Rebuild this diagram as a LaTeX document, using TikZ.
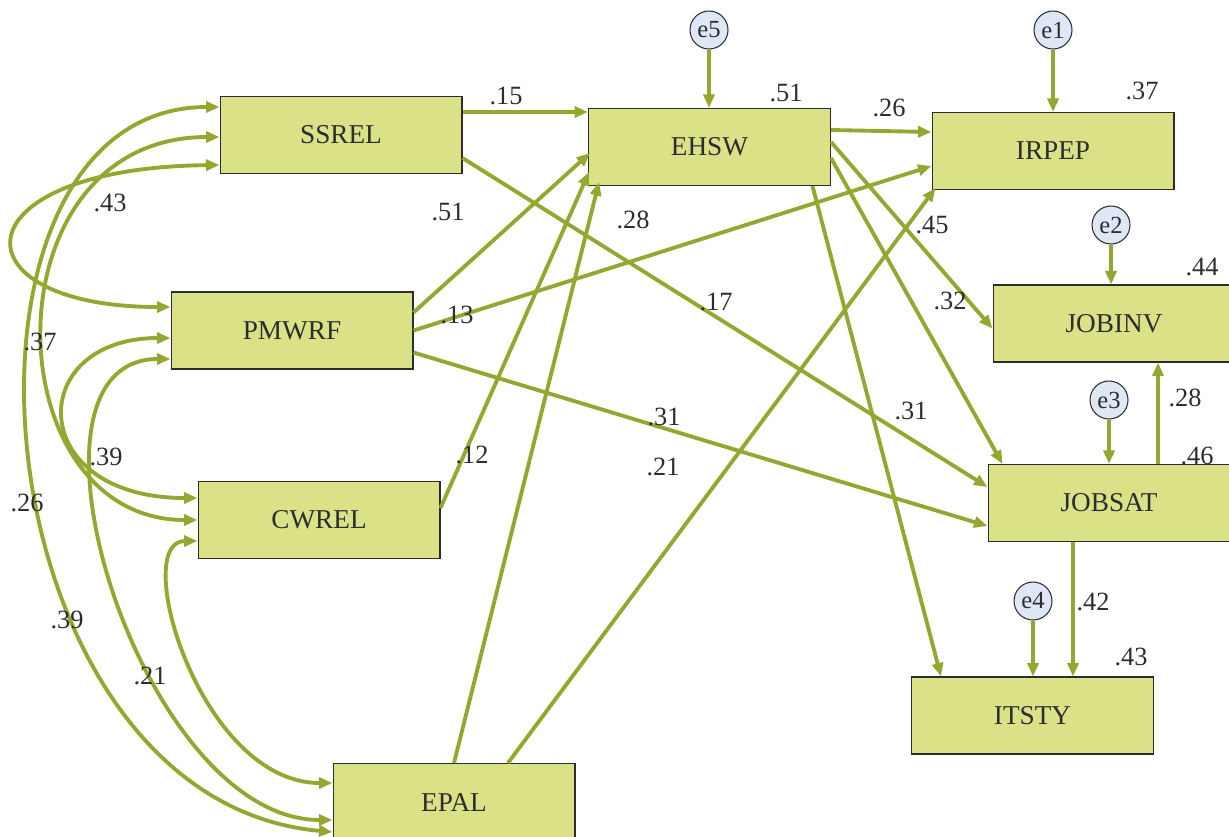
\documentclass[tikz,border=0pt]{standalone}
\usepackage{fontspec}
\setmainfont{Liberation Serif}
\usepackage{tikz}
\usetikzlibrary{positioning,calc,arrows.meta}

\definecolor{pathgreen}{RGB}{149,167,48}
\definecolor{boxgreen}{RGB}{218,225,135}
\definecolor{errblue}{RGB}{222,231,245}
\definecolor{inkgray}{RGB}{45,45,45}

\begin{document}
\begin{tikzpicture}[x=0.02cm, y=-0.02cm,
        >={Triangle[length=0.27cm,width=0.22cm]},
        var/.style={draw=inkgray, line width=0.6pt, fill=boxgreen, minimum width=4.84cm, minimum height=1.54cm, inner sep=0pt, font=\fontsize{15.5}{17}\selectfont, text=inkgray},
        err/.style={circle, draw=inkgray, line width=0.6pt, fill=errblue, minimum size=0.76cm, inner sep=0pt, font=\fontsize{14}{15}\selectfont, text=inkgray},
        coef/.style={inner sep=0pt, font=\fontsize{15}{17}\selectfont, text=inkgray},
        effect/.style={draw=pathgreen, line width=2.2pt, ->},
        cov/.style={draw=pathgreen, line width=2.2pt, <->}]
        \useasboundingbox (0,0) rectangle (1229,836);

        % Exogenous
        \node[var] (ssrel) at (341,135) {SSREL};
        \node[var] (pmwrf) at (292,330.5) {PMWRF};
        \node[var] (cwrel) at (319,520) {CWREL};
        \node[var] (epal) at (454,802) {EPAL};

        % Endogenous
        \node[var] (ehsw) at (709.5,147) {EHSW};
        \node[var] (irpep) at (1053,151) {IRPEP};
        \node[var] (jobinv) at (1114,323.5) {JOBINV};
        \node[var] (jobsat) at (1109,503) {JOBSAT};
        \node[var] (itsty) at (1032.5,715.5) {ITSTY};

        % Errors
        \node[err] (e5) at (709,30) {e5};
        \node[err] (e1) at (1053,30) {e1};
        \node[err] (e2) at (1111,225) {e2};
        \node[err] (e3) at (1109,400) {e3};
        \node[err] (e4) at (1033,601) {e4};

        % Paths
        \draw[effect] ($(ssrel.east)+(0,-23)$) -- ($(ehsw.west)+(0,-35)$);
        \draw[effect] ($(ssrel.east)+(0,23)$) -- ($(jobsat.west)+(0,-16)$);
        \draw[effect] ($(ehsw.east)+(0,-17)$) -- ($(irpep.west)+(0,-19)$);
        \draw[effect] ($(ehsw.east)+(0,-5)$) -- ($(jobinv.west)+(0,5)$);
        \draw[effect] ($(ehsw.east)+(0,11)$) -- ($(jobsat.north west)+(15,0)$);
        \draw[effect] ($(ehsw.south)+(103,0)$) -- ($(itsty.north west)+(30,0)$);
        \draw[effect] ($(pmwrf.east)+(0,-18)$) -- ($(ehsw.west)+(2,6)$);
        \draw[effect] (pmwrf.east) -- ($(irpep.west)+(0,15)$);
        \draw[effect] ($(pmwrf.east)+(0,22)$) -- ($(jobsat.west)+(0,23)$);
        \draw[effect] ($(cwrel.east)+(0,-12)$) -- ($(ehsw.west)+(1,25)$);
        \draw[effect] (epal.north) -- ($(ehsw.south west)+(11,-4)$);
        \draw[effect] ($(epal.north)+(54,0)$) -- ($(irpep.south west)+(4,-2)$);
        \draw[effect] ($(jobsat.north)+(49,0)$) -- ($(jobinv.south)+(44,0)$);
        \draw[effect] ($(jobsat.south)+(-36,0)$) -- ($(itsty.north)+(40.5,0)$);

        \draw[effect] (e5) -- (e5 |- ehsw.north);
        \draw[effect] (e1) -- (e1 |- irpep.north);
        \draw[effect] (e2) -- (e2 |- jobinv.north);
        \draw[effect] (e3) -- (e3 |- jobsat.north);
        \draw[effect] (e4) -- (e4 |- itsty.north);

        % Covariances
        \draw[cov] ($(ssrel.west)+(0,-28)$) .. controls +(-295,0) and +(-358,-32) .. ($(epal.west)+(0,30)$);
        \draw[cov] ($(ssrel.west)+(0,2)$) .. controls +(-235,0) and +(-205,0) .. (cwrel.west);
        \draw[cov] ($(ssrel.west)+(0,30)$) .. controls +(-265,3) and +(-218,0) .. ($(pmwrf.west)+(0,-23.5)$);
        \draw[cov] ($(pmwrf.west)+(0,7.5)$) .. controls +(-146,0) and +(-173,0) .. ($(cwrel.west)+(0,-22)$);
        \draw[cov] ($(pmwrf.west)+(0,28.5)$) .. controls +(-171,0) and +(-193,0) .. ($(epal.west)+(0,18)$);
        \draw[cov] ($(cwrel.west)+(0,21)$) .. controls +(-68,0) and +(-133,0) .. ($(epal.west)+(0,-19)$);

        % Coefficients
        \node[coef] (c-se) at (506,96) {.15};
        \node[coef] (c-pe) at (448,212) {.51};
        \node[coef] (c-ae) at (633,220) {.28};
        \node[coef] (c-sj) at (716,302) {.17};
        \node[coef] (c-pi) at (457,315) {.13};
        \node[coef] (c-pj) at (664,417) {.31};
        \node[coef] (c-ce) at (472,455) {.12};
        \node[coef] (c-ai) at (663,467) {.21};
        \node[coef] (c-ei) at (889,108) {.26};
        \node[coef] (c-ev) at (932,225) {.45};
        \node[coef] (c-ej) at (950,301) {.32};
        \node[coef] (c-et) at (911,411) {.31};
        \node[coef] (c-jv) at (1185,398) {.28};
        \node[coef] (c-jt) at (1093,602) {.42};

        % R squared
        \node[coef] (r-ehsw) at (786,93) {.51};
        \node[coef] (r-irpep) at (1142,91) {.37};
        \node[coef] (r-jobinv) at (1202,267) {.44};
        \node[coef] (r-jobsat) at (1197,456) {.46};
        \node[coef] (r-itsty) at (1131,657) {.43};

        % Correlations
        \node[coef] (k-sp) at (110,203) {.43};
        \node[coef] (k-sc) at (40,342) {.37};
        \node[coef] (k-pc) at (106,457) {.39};
        \node[coef] (k-sa) at (27,503) {.26};
        \node[coef] (k-pa) at (67,620) {.39};
        \node[coef] (k-ca) at (150,676) {.21};

        \end{tikzpicture}
\end{document}
